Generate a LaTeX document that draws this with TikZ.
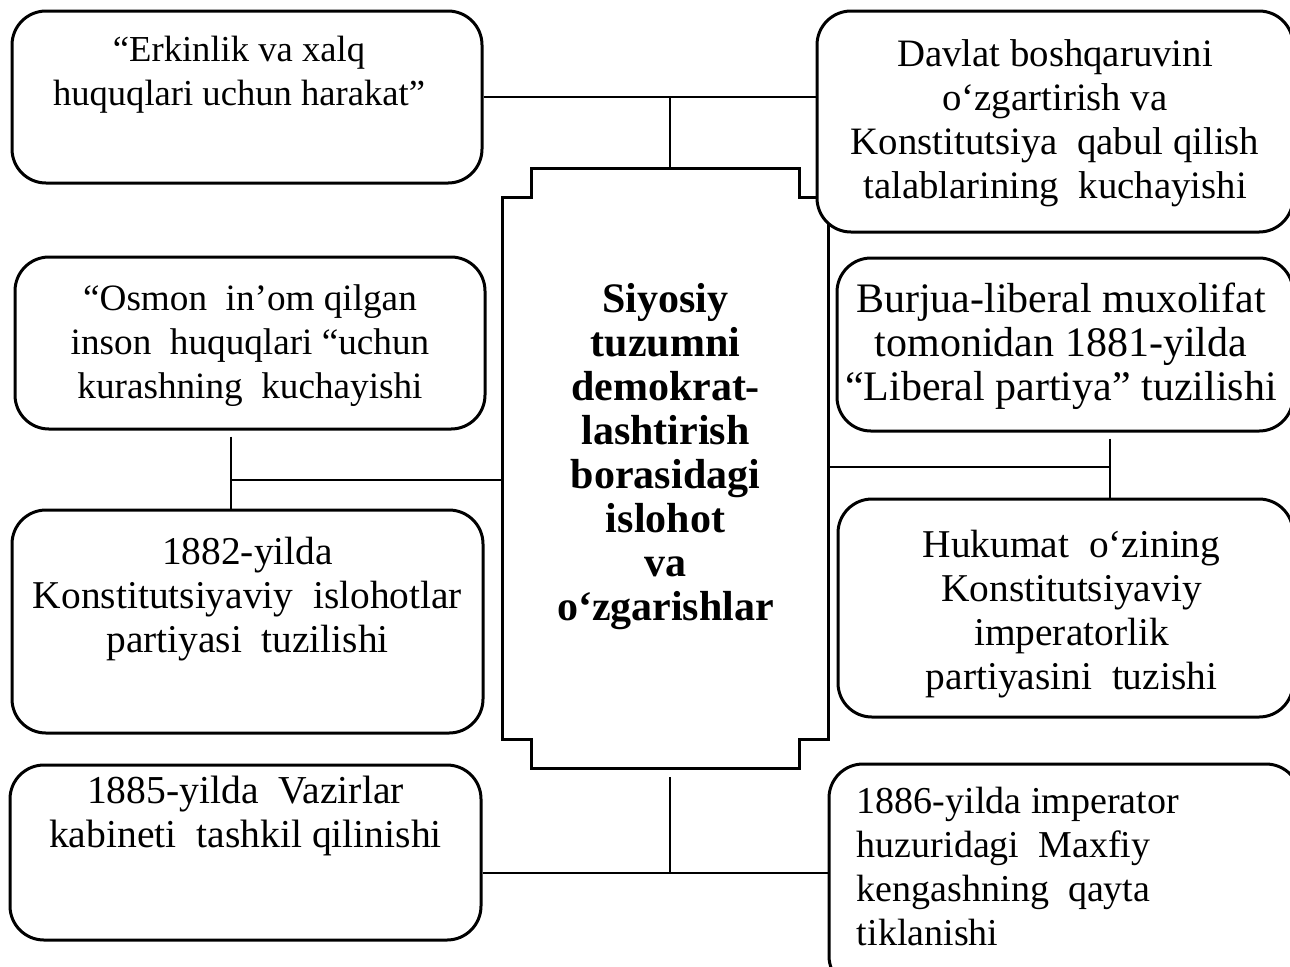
\documentclass[tikz,border=0pt]{standalone}
\usepackage{fontspec}
\setmainfont{Liberation Serif}
\usetikzlibrary{positioning}

\begin{document}
\begin{tikzpicture}[x=0.5pt,y=-0.5pt,
  box/.style={draw=black,fill=white,line width=1.5pt,rounded corners=17pt,inner sep=0pt},
  txt/.style={align=center,inner sep=0pt,font=\fontsize{#1}{22}\selectfont},
  txt/.default=19.5,
  plaque/.style={draw=none,inner sep=0pt,minimum width=162.5pt,minimum height=299.5pt},
  plq/.style={draw=black,line width=1.5pt},
  link/.style={draw=black,line width=1pt}]
  \useasboundingbox (0,0) rectangle (1290,966);
  % central plaque with stepped corners
  \node[plaque] (pl) at (665.5,468.5) {};
  \draw[plq] ([xshift=14.5pt]pl.north west) -- ([xshift=-14.5pt]pl.north east)
    -- ++(0pt,-14.5pt) -- ++(14.5pt,0pt) -- ([yshift=14.5pt]pl.south east)
    -- ++(-14.5pt,0pt) -- ++(0pt,-14.5pt) -- ([xshift=14.5pt]pl.south west)
    -- ++(0pt,14.5pt) -- ++(-14.5pt,0pt) -- ([yshift=-14.5pt]pl.north west)
    -- ++(14.5pt,0pt) -- cycle;
  \node[txt=21,font=\fontsize{21}{22}\selectfont\bfseries] (cen) at ([yshift=6pt]pl)
    {Siyosiy\\tuzumni\\demokrat-\\lashtirish\\borasidagi\\islohot\\va\\o‘zgarishlar};
  % boxes
  \node[box,minimum width=235pt,minimum height=86pt] (b1) at (247,97) {};
  \node[box,minimum width=238pt,minimum height=110.5pt] (b2) at (1055,121.5) {};
  \node[box,minimum width=235pt,minimum height=86pt] (b3) at (250,343) {};
  \node[box,minimum width=235.5pt,minimum height=111.5pt] (b4) at (247.5,621.5) {};
  \node[box,minimum width=228pt,minimum height=86.5pt] (b5) at (1065,344.5) {};
  \node[box,minimum width=227.5pt,minimum height=109pt] (b6) at (1065.5,608) {};
  \node[box,minimum width=235.5pt,minimum height=87.5pt] (b7) at (245.5,852.5) {};
  \node[box,minimum width=235.5pt,minimum height=113pt] (b8) at (1064.5,877) {};
  % texts
  \node[txt=18.3,below=13pt of b1.north,xshift=-4pt] (b1t)
    {“Erkinlik va xalq\\huquqlari uchun harakat”};
  \node[txt=19.4,yshift=-1pt] (b2t) at (b2) {Davlat boshqaruvini\\o‘zgartirish va\\Konstitutsiya~ qabul qilish\\talablarining~ kuchayishi};
  \node[txt=18.6,yshift=-1.5pt] (b3t) at (b3) {“Osmon~ in’om qilgan\\inson~ huquqlari “uchun\\kurashning~ kuchayishi};
  \node[txt=19.7,below=14pt of b4.north] (b4t) {1882-yilda\\Konstitutsiyaviy~ islohotlar\\partiyasi~ tuzilishi};
  \node[txt=21,xshift=-2pt,yshift=-1pt] (b5t) at (b5) {Burjua-liberal muxolifat\\tomonidan 1881-yilda\\“Liberal partiya” tuzilishi};
  \node[txt=19.7,xshift=3pt,yshift=-3pt] (b6t) at (b6) {Hukumat~ o‘zining\\Konstitutsiyaviy\\imperatorlik\\partiyasini~ tuzishi};
  \node[txt=19.8,below=6pt of b7.north] (b7t) {1885-yilda~ Vazirlar\\kabineti~ tashkil qilinishi};
  \node[txt=19,align=left,anchor=north west] (b8t) at ([xshift=14.5pt,yshift=-12pt]b8.north west)
    {1886-yilda imperator\\huzuridagi~ Maxfiy\\kengashning~ qayta\\tiklanishi};
  % connectors
  \coordinate (jt) at (670,95);
  \coordinate (jl) at (231,480);
  \coordinate (jr) at (1110,467);
  \coordinate (jb) at (670,873);
  \draw[link] (b1.east) -- (b2.west |- b1.east);
  \draw[link] (jt |- b1.east) -- (jt |- pl.north);
  \draw[link,shorten <=3pt] (jl |- b3.south) -- (jl |- b4.north);
  \draw[link] (jl) -- (jl -| pl.west);
  \draw[link,shorten <=3pt] (jr |- b5.south) -- (jr |- b6.north);
  \draw[link] (pl.east |- jr) -- (jr);
  \draw[link] (b7.east |- jb) -- (b8.west |- jb);
  \draw[link,shorten <=4.5pt] (jb |- pl.south) -- (jb);
\end{tikzpicture}
\end{document}
